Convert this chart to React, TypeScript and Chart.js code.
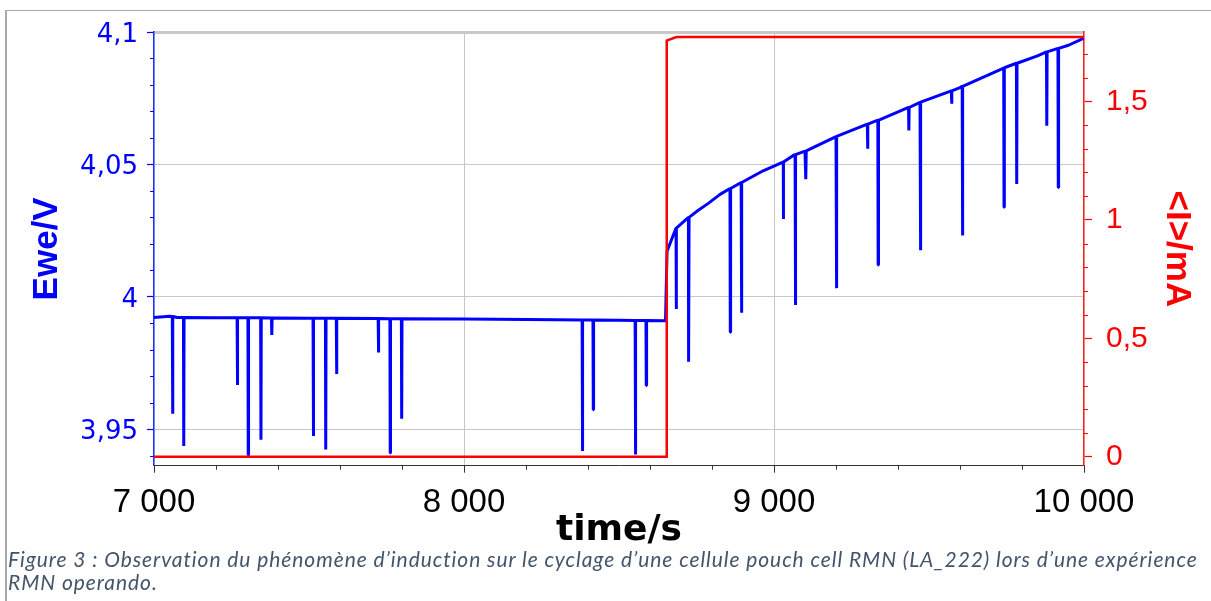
import React, { useEffect, useRef } from 'react';
import { Chart, registerables } from 'chart.js';

Chart.register(...registerables);

// ---- Data ----
// Ewe baseline (without the short negative spikes)
const eweBaseTimes = [7000, 7050, 7075, 7200, 7500, 7800, 8000, 8300, 8500, 8650, 8655, 8684, 8724, 8750, 8788, 8826, 8858, 8896, 8965, 9030, 9061, 9100, 9200, 9342, 9471, 9600, 9739, 9850, 9950, 10000];
const eweBaseValues = [3.9922, 3.9927, 3.9922, 3.9921, 3.9919, 3.9917, 3.9916, 3.9914, 3.9912, 3.991, 4.0172, 4.026, 4.03, 4.0322, 4.0353, 4.0387, 4.0409, 4.0432, 4.0476, 4.0509, 4.0533, 4.055, 4.0605, 4.0669, 4.0734, 4.079, 4.0863, 4.091, 4.095, 4.0977];

// Ewe spikes: time, value just before the spike, minimum value
const spikeTimes = [7060, 7096, 7269, 7304, 7345, 7380, 7514, 7554, 7589, 7724, 7762, 7799, 8382, 8417, 8553, 8588, 8685, 8725, 8859, 8895, 9030, 9069, 9103, 9202, 9302, 9336, 9435, 9473, 9573, 9608, 9742, 9783, 9880, 9917];
const spikeTops = [3.9926, 3.9922, 3.9921, 3.9921, 3.9921, 3.992, 3.9919, 3.9919, 3.9919, 3.9918, 3.9917, 3.9917, 3.9913, 3.9913, 3.9911, 3.9911, 4.026, 4.03, 4.0409, 4.0432, 4.0509, 4.0537, 4.0551, 4.0606, 4.0652, 4.0667, 4.0715, 4.0735, 4.0778, 4.0795, 4.0865, 4.0882, 4.0925, 4.0938];
const spikeMins = [3.9559, 3.9437, 3.9667, 3.9403, 3.9461, 3.9856, 3.9475, 3.9424, 3.9709, 3.979, 3.9411, 3.954, 3.9418, 3.9574, 3.9405, 3.9665, 3.9954, 3.9755, 3.9866, 3.994, 4.0294, 3.9969, 4.0444, 4.0033, 4.0559, 4.012, 4.0628, 4.0176, 4.0729, 4.0232, 4.0338, 4.0426, 4.0646, 4.0413];

// Current <I>
const currentTimes = [7000, 8652, 8654, 8685, 10000];
const currentValues = [0, 0, 1.757, 1.772, 1.772];

// Ticks
const xTickValues = [7000, 8000, 9000, 10000];
const xTickLabels = ['7 000', '8 000', '9 000', '10 000'];
const eweTickValues = [3.95, 4, 4.05, 4.1];
const eweTickLabels = ['3,95', '4', '4,05', '4,1'];
const iTickValues = [0, 0.5, 1, 1.5];
const iTickLabels = ['0', '0,5', '1', '1,5'];

const minorTicksPlugin = {
  id: 'minorTicks',
  afterDraw(chart: any) {
    const { ctx, scales } = chart;
    const x = scales.x;
    const yE = scales.yE;
    const yI = scales.yI;
    ctx.save();
    ctx.lineWidth = 1;
    ctx.strokeStyle = '#333333';
    ctx.beginPath();
    for (let i = 35; i < 50; i++) {
      if (i % 5 === 0) continue;
      const px = Math.round(x.getPixelForValue(i * 200)) + 0.5;
      ctx.moveTo(px, x.top);
      ctx.lineTo(px, x.top + 4);
    }
    ctx.stroke();
    ctx.strokeStyle = '#0000ff';
    ctx.beginPath();
    for (let i = 394; i < 410; i++) {
      if (i % 5 === 0) continue;
      const py = Math.round(yE.getPixelForValue(i / 100)) + 0.5;
      ctx.moveTo(yE.right, py);
      ctx.lineTo(yE.right - 4, py);
    }
    ctx.stroke();
    ctx.strokeStyle = '#ff0000';
    ctx.beginPath();
    for (let i = 0; i < 18; i++) {
      if (i % 5 === 0) continue;
      const py = Math.round(yI.getPixelForValue(i / 10)) + 0.5;
      ctx.moveTo(yI.left, py);
      ctx.lineTo(yI.left + 4, py);
    }
    ctx.stroke();
    ctx.restore();
  },
};

export default function App() {
  const canvasRef = useRef<HTMLCanvasElement | null>(null);

  useEffect(() => {
    const canvas = canvasRef.current;
    if (!canvas) return;

    const ewePoints: { x: number; y: number }[] = eweBaseTimes.map((t, i) => ({ x: t, y: eweBaseValues[i] }));
    spikeTimes.forEach((t, i) => {
      ewePoints.push({ x: t - 1, y: spikeTops[i] });
      ewePoints.push({ x: t, y: spikeMins[i] });
      ewePoints.push({ x: t + 1, y: spikeTops[i] });
    });
    ewePoints.sort((a, b) => a.x - b.x);
    const currentPoints = currentTimes.map((t, i) => ({ x: t, y: currentValues[i] }));

    const chart = new Chart(canvas, {
      type: 'line',
      data: {
        datasets: [
          {
            label: '<I>/mA',
            data: currentPoints,
            yAxisID: 'yI',
            borderColor: '#ff0000',
            borderWidth: 2.5,
            pointRadius: 0,
            tension: 0,
          },
          {
            label: 'Ewe/V',
            data: ewePoints,
            yAxisID: 'yE',
            borderColor: '#0000ff',
            borderWidth: 3,
            pointRadius: 0,
            tension: 0,
            borderJoinStyle: 'bevel',
          },
        ],
      },
      options: {
        animation: false,
        responsive: false,
        maintainAspectRatio: false,
        layout: { padding: { top: 28.3, left: 0, right: 0, bottom: 0 } },
        plugins: { legend: { display: false }, tooltip: { enabled: false } },
        scales: {
          x: {
            type: 'linear',
            position: 'bottom',
            min: 7000,
            max: 10000,
            afterBuildTicks: (s: any) => {
              s.ticks = xTickValues.map((v) => ({ value: v }));
            },
            afterFit: (s: any) => {
              s.height = 94.3;
            },
            ticks: {
              autoSkip: false,
              maxRotation: 0,
              padding: 10.5,
              color: '#000000',
              font: { family: "'Liberation Sans', Arial, sans-serif", size: 33 },
              callback: (v: any) => {
                const k = xTickValues.indexOf(Number(v));
                return k >= 0 ? xTickLabels[k] : '';
              },
            },
            grid: {
              color: (c: any) => (c.tick && (c.tick.value === 7000 || c.tick.value === 10000) ? 'rgba(0,0,0,0)' : '#c6c6c6'),
              lineWidth: 1,
              tickColor: '#333333',
              tickLength: 7,
              tickWidth: 1,
            },
            border: { color: '#333333', width: 1 },
            title: {
              display: true,
              text: 'time/s',
              color: '#000000',
              font: { family: "'DejaVu Sans', sans-serif", weight: 'bold', size: 36 },
              padding: { top: 0, bottom: 8 },
            },
          },
          yE: {
            type: 'linear',
            position: 'left',
            min: 3.93626,
            max: 4.1,
            afterBuildTicks: (s: any) => {
              s.ticks = eweTickValues.map((v) => ({ value: v }));
            },
            afterFit: (s: any) => {
              s.width = 154;
            },
            ticks: {
              padding: 9,
              labelOffset: 3,
              color: '#0000ff',
              font: { family: "'DejaVu Sans', sans-serif", size: 26 },
              callback: (v: any) => {
                const k = eweTickValues.findIndex((e) => Math.abs(e - Number(v)) < 1e-6);
                return k >= 0 ? eweTickLabels[k] : '';
              },
            },
            grid: {
              color: '#c8c8c8',
              lineWidth: (c: any) => (c.tick && Math.abs(c.tick.value - 4.1) < 1e-6 ? 3 : 1),
              tickColor: '#0000ff',
              tickLength: 7,
              tickWidth: 1.2,
            },
            border: { color: '#1f2fff', width: 1.6 },
            title: {
              display: true,
              text: 'Ewe/V',
              color: '#0000ff',
              font: { family: "'Liberation Sans', Arial, sans-serif", weight: 'bold', size: 35 },
              padding: { top: 26, bottom: 0 },
            },
          },
          yI: {
            type: 'linear',
            position: 'right',
            min: -0.0377,
            max: 1.793,
            afterBuildTicks: (s: any) => {
              s.ticks = iTickValues.map((v) => ({ value: v }));
            },
            afterFit: (s: any) => {
              s.width = 127;
            },
            ticks: {
              padding: 14,
              color: '#ff0000',
              font: { family: "'Liberation Sans', Arial, sans-serif", size: 30 },
              callback: (v: any) => {
                const k = iTickValues.findIndex((e) => Math.abs(e - Number(v)) < 1e-6);
                return k >= 0 ? iTickLabels[k] : '';
              },
            },
            grid: {
              drawOnChartArea: false,
              tickColor: '#ff0000',
              tickLength: 8,
              tickWidth: 1.2,
            },
            border: { color: '#ff2020', width: 1.6 },
            title: {
              display: true,
              text: '<I>/mA',
              color: '#ff0000',
              font: { family: "'Liberation Sans', Arial, sans-serif", weight: 'bold', size: 35 },
              padding: { top: 13.6, bottom: 0 },
            },
          },
        },
      } as any,
      plugins: [minorTicksPlugin],
    });

    return () => {
      chart.destroy();
    };
  }, []);

  return (
    <div
      style={{
        position: 'absolute',
        left: 0,
        top: 0,
        width: 1211,
        height: 601,
        background: '#ffffff',
        overflow: 'hidden',
      }}
    >
      <div
        style={{
          position: 'absolute',
          left: 5,
          top: 10,
          width: 1205,
          height: 600,
          borderLeft: '2px solid #a8a8a8',
          borderTop: '1.5px solid #a8a8a8',
        }}
      />
      <canvas
        ref={canvasRef}
        width={1211}
        height={560}
        style={{ position: 'absolute', left: 0, top: 0, display: 'block' }}
      />
      <div
        style={{
          position: 'absolute',
          left: 8,
          top: 547,
          whiteSpace: 'nowrap',
          fontFamily: 'Lato, "Open Sans", sans-serif',
          fontStyle: 'italic',
          fontSize: 21,
          letterSpacing: '0.93px',
          lineHeight: '23px',
          color: '#44546a',
        }}
      >
        Figure 3 : Observation du phénomène d’induction sur le cyclage d’une cellule pouch cell RMN (LA_222) lors d’une expérience
        <br />
        RMN operando.
      </div>
    </div>
  );
}
